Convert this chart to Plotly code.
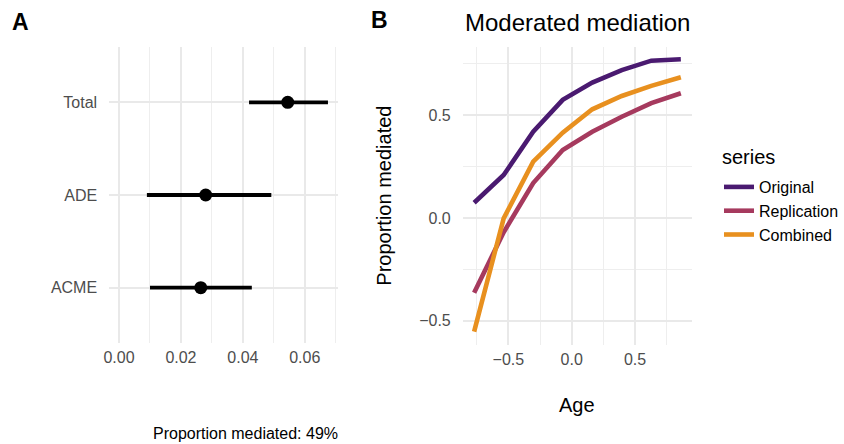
import plotly.graph_objects as go

# Panel A data
effects = ["ACME", "ADE", "Total"]
estimate = [0.0264, 0.0280, 0.0545]
ci_low = [0.0100, 0.0090, 0.0420]
ci_high = [0.0429, 0.0492, 0.0675]

# Panel B data
age = [-0.770, -0.537, -0.304, -0.071, 0.162, 0.395, 0.628, 0.861]
original = [0.074, 0.209, 0.420, 0.575, 0.659, 0.720, 0.766, 0.773]
replication = [-0.364, -0.070, 0.170, 0.331, 0.420, 0.493, 0.559, 0.607]
combined = [-0.554, -0.002, 0.274, 0.415, 0.529, 0.594, 0.643, 0.685]
series_names = ["Original", "Replication", "Combined"]
series_colors = ["#4A1A70", "#A63A5E", "#E8901F"]

W, H = 844, 444
FONT = "Liberation Sans, Arial, sans-serif"
GRID = "#E9E9E9"
MINOR = "#EEEEEE"
TICKC = "#4D4D4D"

def px(x):
    return x / W

def py(y):
    return 1 - y / H

fig = go.Figure()

ypos = list(range(1, len(effects) + 1))
fig.add_trace(go.Scatter(
    x=estimate, y=ypos, mode="markers",
    marker=dict(color="black", size=13),
    error_x=dict(type="data", symmetric=False,
                 array=[h - e for h, e in zip(ci_high, estimate)],
                 arrayminus=[e - l for e, l in zip(estimate, ci_low)],
                 color="black", thickness=3.8, width=0),
    xaxis="x", yaxis="y", showlegend=False, hoverinfo="skip"))

for name, vals, col in zip(series_names, [original, replication, combined], series_colors):
    fig.add_trace(go.Scatter(
        x=age, y=vals, mode="lines", name=name, legendgroup=name,
        line=dict(color=col, width=4.6),
        xaxis="x2", yaxis="y2"))

xcommon = dict(showline=False, zeroline=False, ticks="", gridcolor=GRID, gridwidth=1.6,
               tickfont=dict(family=FONT, size=16, color=TICKC), ticklabelstandoff=3)
ycommon = dict(showline=False, zeroline=False, ticks="", gridcolor=GRID, gridwidth=1.6,
               tickfont=dict(family=FONT, size=16, color=TICKC), ticklabelstandoff=11)
minor_kw = dict(showgrid=True, gridcolor=MINOR, gridwidth=1.2)

fig.update_layout(
    width=W, height=H, margin=dict(l=0, r=0, t=0, b=0),
    paper_bgcolor="white", plot_bgcolor="white",
    font=dict(family=FONT, color="black"),
    xaxis=dict(domain=[px(105), px(338.5)], range=[-0.0032, 0.0709], dtick=0.02, tick0=0,
               tickformat=".2f", anchor="y",
               minor=dict(dtick=0.01, tick0=0, **minor_kw), **xcommon),
    yaxis=dict(domain=[py(343.3), py(46.7)], range=[0.4, 3.6], tickvals=ypos, ticktext=effects,
               anchor="x", **ycommon),
    xaxis2=dict(domain=[px(465), px(698)], range=[-0.86, 0.946], dtick=0.5, tick0=0,
                tickformat=".1f", anchor="y2",
                minor=dict(dtick=0.25, tick0=0, **minor_kw), **xcommon),
    yaxis2=dict(domain=[py(345), py(46.7)], range=[-0.619, 0.834], dtick=0.5, tick0=0,
                tickformat=".1f", anchor="x2",
                minor=dict(dtick=0.25, tick0=0, **minor_kw), **ycommon),
    legend=dict(x=px(726), y=py(170), xanchor="left", yanchor="top",
                font=dict(family=FONT, size=16, color="black"),
                bgcolor="rgba(0,0,0,0)", tracegroupgap=0, traceorder="normal"),
    showlegend=True,
)

annots = [
    dict(text="<b>A</b>", x=px(15), y=py(21.5), size=23, xanchor="center", yanchor="middle"),
    dict(text="<b>B</b>", x=px(380), y=py(19.5), size=23, xanchor="center", yanchor="middle"),
    dict(text="Moderated mediation", x=px(465), y=py(22.5), size=24, xanchor="left", yanchor="middle"),
    dict(text="Proportion mediated: 49%", x=px(340.5), y=py(433), size=16, xanchor="right", yanchor="middle"),
    dict(text="Age", x=px(581), y=py(405), size=20, xanchor="center", yanchor="middle"),
    dict(text="Proportion mediated", x=px(384.5), y=py(196), size=20, xanchor="center", yanchor="middle", textangle=-90),
    dict(text="series", x=px(727), y=py(157), size=20, xanchor="left", yanchor="middle"),
]
for a in annots:
    fig.add_annotation(text=a["text"], x=a["x"], y=a["y"], xref="paper", yref="paper",
                       xanchor=a["xanchor"], yanchor=a["yanchor"], showarrow=False,
                       textangle=a.get("textangle", 0),
                       font=dict(family=FONT, size=a["size"], color="black"))

fig.write_html("out.html")
